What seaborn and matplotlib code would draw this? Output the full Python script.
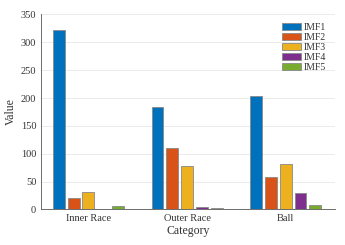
import matplotlib
matplotlib.use("Agg")
import matplotlib.pyplot as plt
import seaborn as sns
import pandas as pd

categories = ["Inner Race", "Outer Race", "Ball"]
series = ["IMF1", "IMF2", "IMF3", "IMF4", "IMF5"]
imf1 = [322, 184, 204]
imf2 = [20, 111, 58]
imf3 = [32, 78, 81]
imf4 = [0, 4, 29]
imf5 = [6, 3, 8]
colors = ["#0072BD", "#D95319", "#EDB120", "#7E2F8E", "#77AC30"]

rows = []
for s, vals in zip(series, [imf1, imf2, imf3, imf4, imf5]):
    for c, v in zip(categories, vals):
        rows.append({"Category": c, "Series": s, "Value": v})
df = pd.DataFrame(rows)

sns.set_theme(style="white")
plt.rcParams["font.family"] = ["Liberation Serif", "DejaVu Serif"]

fig = plt.figure(figsize=(3.45, 2.45), dpi=100)
ax = fig.add_axes([0.119, 0.145, 0.852, 0.796])
sns.barplot(data=df, x="Category", y="Value", hue="Series", order=categories,
            hue_order=series, palette=colors, width=0.75, gap=0.2,
            edgecolor="#888888", linewidth=0.6, saturation=1, ax=ax)

ax.set_ylim(0, 350)
ax.set_yticks(range(0, 351, 50))
ax.set_xlim(-0.48, 2.5)
ax.yaxis.grid(True, color="#e8e8e8", linewidth=0.6)
ax.set_axisbelow(True)
for side in ["top", "right"]:
    ax.spines[side].set_visible(False)
for side in ["left", "bottom"]:
    ax.spines[side].set_color("#555555")
    ax.spines[side].set_linewidth(0.6)
ax.tick_params(axis="both", labelsize=7.5, colors="#333333", direction="in", length=2, width=0.5)
ax.set_xlabel("Category", fontsize=8.5, color="#333333", labelpad=1)
ax.set_ylabel("Value", fontsize=8.5, color="#333333", labelpad=3)

leg = ax.legend(loc="upper right", fontsize=7, frameon=False, handlelength=2.0,
                handleheight=0.75, labelspacing=0.1, handletextpad=0.25,
                borderaxespad=0.5)
for t in leg.get_texts():
    t.set_color("#333333")

fig.savefig("out.png", dpi=100)
